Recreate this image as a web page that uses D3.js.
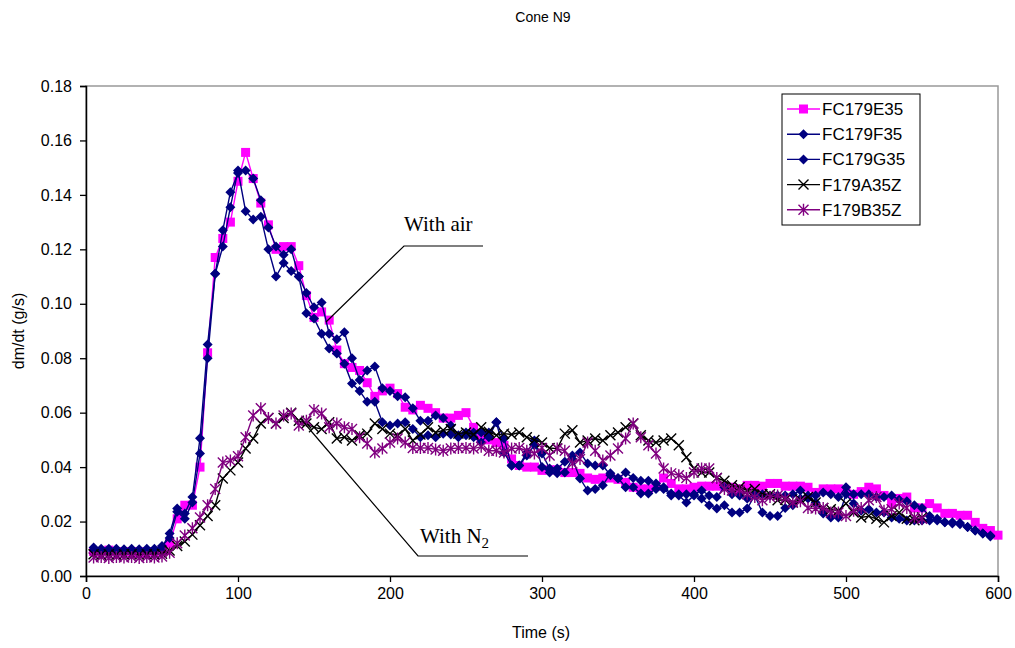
<!DOCTYPE html>
<meta charset="utf-8">
<script src="https://d3js.org/d3.v7.min.js"></script>
<style>
body { margin: 0; background: #fff; }
text { font-family: Arial, "Liberation Sans", sans-serif; }
</style>
<div id="my_dataviz"></div>
<script>

// time base: one reading every 5 s
var step = 5;
var seriesNames = ["FC179E35", "FC179F35", "FC179G35", "F179A35Z", "F179B35Z"];
var xTicks = [0, 100, 200, 300, 400, 500, 600];
var yTicks = [0, 0.02, 0.04, 0.06, 0.08, 0.10, 0.12, 0.14, 0.16, 0.18];

// dm/dt values (g/s), starting at t = 5 s
var e35 = [0.009,0.009,0.0095,0.009,0.009,0.009,0.0085,0.009,0.009,0.0095,
  0.012,0.021,0.026,0.026,0.040,0.082,0.117,0.124,0.130,0.145,
  0.1556,0.146,0.137,0.129,0.120,0.121,0.121,0.114,0.103,0.095,
  0.097,0.094,0.083,0.078,0.0766,0.0755,0.071,0.066,0.068,0.069,
  0.067,0.062,0.061,0.0627,0.0616,0.060,0.058,0.058,0.059,0.060,
  0.0546,0.0505,0.050,0.049,0.048,0.043,0.0406,0.040,0.040,0.0388,
  0.039,0.039,0.038,0.038,0.0377,0.036,0.0355,0.036,0.036,0.0355,
  0.0344,0.0326,0.032,0.032,0.033,0.036,0.034,0.032,0.032,0.0326,
  0.033,0.033,0.033,0.033,0.0326,0.032,0.0333,0.0333,0.033,0.034,
  0.034,0.033,0.033,0.033,0.0326,0.0307,0.032,0.032,0.032,0.0314,
  0.030,0.031,0.0326,0.032,0.0296,0.027,0.0285,0.029,0.025,0.025,
  0.0266,0.025,0.023,0.023,0.0223,0.0223,0.0197,0.0175,0.0167,0.015];

var f35 = [0.0105,0.010,0.010,0.010,0.0098,0.010,0.0098,0.010,0.010,0.0105,
  0.0156,0.0248,0.023,0.029,0.0506,0.085,0.111,0.127,0.141,0.148,
  0.149,0.146,0.138,0.128,0.121,0.118,0.120,0.110,0.104,0.0987,
  0.1005,0.089,0.087,0.0895,0.080,0.072,0.0755,0.077,0.069,0.068,
  0.066,0.0657,0.0616,0.057,0.057,0.059,0.058,0.0553,0.0517,0.0527,
  0.051,0.049,0.0527,0.0565,0.0505,0.0406,0.0406,0.0454,0.0498,0.040,
  0.038,0.0395,0.042,0.0443,0.0454,0.0413,0.0406,0.0406,0.037,0.0358,
  0.038,0.036,0.035,0.035,0.034,0.0326,0.0303,0.030,0.030,0.030,
  0.0314,0.0296,0.029,0.0326,0.030,0.0296,0.0285,0.030,0.030,0.0296,
  0.0296,0.0296,0.030,0.0314,0.0296,0.0296,0.0307,0.030,0.029,0.0326,
  0.030,0.030,0.030,0.029,0.029,0.0296,0.028,0.0275,0.026,0.025,
  0.022,0.021,0.0197,0.0193,0.0195,0.018,0.0167,0.0156,0.0149];

var g35 = [0.0095,0.0095,0.009,0.0095,0.009,0.009,0.0095,0.009,0.009,0.011,
  0.014,0.0236,0.021,0.027,0.045,0.080,0.111,0.121,0.1355,0.149,
  0.134,0.131,0.132,0.120,0.110,0.115,0.112,0.110,0.0965,0.0946,
  0.089,0.0836,0.0817,0.078,0.0707,0.068,0.064,0.064,0.0565,0.0553,
  0.056,0.0565,0.054,0.051,0.0517,0.051,0.0523,0.052,0.051,0.0517,
  0.0527,0.0527,0.051,0.0565,0.0454,0.0406,0.0406,0.0443,0.048,0.045,
  0.0395,0.0377,0.038,0.043,0.0358,0.0314,0.032,0.0333,0.0377,0.036,
  0.0326,0.0326,0.0303,0.0303,0.032,0.032,0.0296,0.0296,0.027,0.0296,
  0.0285,0.026,0.0248,0.026,0.0233,0.0233,0.0248,0.0296,0.0233,0.022,
  0.022,0.025,0.026,0.0285,0.0285,0.027,0.023,0.0215,0.0215,0.030,
  0.0266,0.024,0.0245,0.0233,0.0233,0.0215,0.021,0.0204,0.0204,0.0204,
  0.0204,0.0204,0.0197,0.0197,0.019,0.018,0.0167,0.0156,0.0145];

var a35z = [0.008,0.0078,0.008,0.0078,0.008,0.008,0.0078,0.008,0.008,0.0082,
  0.0094,0.011,0.0127,0.0152,0.0186,0.022,0.026,0.0358,0.0388,0.0417,
  0.0468,0.0505,0.056,0.058,0.056,0.058,0.060,0.057,0.056,0.0546,
  0.054,0.0565,0.0505,0.051,0.0498,0.0517,0.0523,0.056,0.054,0.0523,
  0.0517,0.054,0.0498,0.052,0.0546,0.0527,0.0535,0.054,0.0523,0.0527,
  0.052,0.0546,0.053,0.0517,0.0523,0.052,0.0527,0.051,0.050,0.049,
  0.047,0.0468,0.0523,0.0535,0.049,0.0498,0.0505,0.0498,0.0517,0.0527,
  0.0546,0.056,0.0517,0.0498,0.049,0.0498,0.0505,0.048,0.0436,0.0395,
  0.038,0.038,0.036,0.035,0.0333,0.0326,0.0314,0.032,0.030,0.030,
  0.0278,0.028,0.027,0.028,0.029,0.027,0.025,0.0245,0.024,0.0266,
  0.0233,0.0215,0.022,0.021,0.0197,0.022,0.0233,0.021,0.0205,0.0215];

var b35z = [0.0068,0.007,0.0066,0.007,0.0068,0.007,0.0066,0.007,0.0068,0.0072,
  0.0085,0.012,0.0149,0.0175,0.0215,0.026,0.032,0.0417,0.0424,0.044,
  0.051,0.059,0.0616,0.058,0.056,0.059,0.0597,0.0553,0.057,0.061,
  0.0597,0.0546,0.056,0.0546,0.054,0.051,0.0487,0.0454,0.0468,0.049,
  0.0505,0.049,0.047,0.047,0.047,0.0465,0.046,0.0468,0.047,0.047,
  0.0468,0.0475,0.046,0.046,0.0454,0.0468,0.047,0.046,0.045,0.047,
  0.0443,0.0468,0.046,0.0413,0.043,0.049,0.046,0.0424,0.0443,0.0468,
  0.0505,0.056,0.051,0.048,0.045,0.0395,0.0377,0.037,0.036,0.038,
  0.0395,0.0395,0.036,0.032,0.0314,0.0314,0.030,0.029,0.0278,0.029,
  0.0296,0.0285,0.027,0.0275,0.025,0.0248,0.025,0.0233,0.0233,0.022,
  0.024,0.025,0.0278,0.029,0.024,0.0245,0.0266,0.025,0.0215,0.021];

var allValues = [e35, f35, g35, a35z, b35z];
var colors = ["#FF00FF", "#000080", "#000080", "#000000", "#800080"];
var markers = ["square", "diamond", "diamond", "x", "star"];

var width = 1015, height = 648;
var margin = {top: 86, right: 17, bottom: 72, left: 86};
var pw = width - margin.left - margin.right,
    ph = height - margin.top - margin.bottom;

var svg = d3.select("#my_dataviz")
  .append("svg")
    .attr("width", width)
    .attr("height", height);

var x = d3.scaleLinear().domain([0, 600]).range([margin.left, margin.left + pw]);
var y = d3.scaleLinear().domain([0, 0.18]).range([margin.top + ph, margin.top]);

// plot area border (grey like Excel)
svg.append("rect")
  .attr("x", margin.left).attr("y", margin.top)
  .attr("width", pw).attr("height", ph)
  .attr("fill", "none").attr("stroke", "#999").attr("stroke-width", 1.5);

// axes
var xAxis = svg.append("g")
  .attr("transform", "translate(0," + (margin.top + ph) + ")")
  .call(d3.axisBottom(x).tickValues(xTicks).tickSize(6).tickPadding(6).tickFormat(d3.format("d")));
var yAxis = svg.append("g")
  .attr("transform", "translate(" + margin.left + ",0)")
  .call(d3.axisLeft(y).tickValues(yTicks).tickSize(6).tickPadding(8).tickFormat(d3.format(".2f")));
[xAxis, yAxis].forEach(function(a) {
  a.select(".domain").attr("stroke", "#000").attr("stroke-width", 1.5);
  a.selectAll(".tick line").attr("stroke", "#000").attr("stroke-width", 1.3);
  a.selectAll("text").style("font-size", "16px").attr("fill", "#000")
    .style("font-family", "Arial, 'Liberation Sans', sans-serif");
});

// marker drawing
function drawMarker(g, type, color, cx, cy) {
  if (type == "square") {
    g.append("rect").attr("x", cx - 4.5).attr("y", cy - 4.5).attr("width", 9).attr("height", 9)
      .attr("fill", color);
  } else if (type == "diamond") {
    g.append("path").attr("d", "M" + cx + "," + (cy - 5) + "L" + (cx + 5) + "," + cy + "L" + cx + "," + (cy + 5) + "L" + (cx - 5) + "," + cy + "Z")
      .attr("fill", color);
  } else if (type == "x") {
    g.append("path").attr("d", "M" + (cx - 5) + "," + (cy - 5) + "L" + (cx + 5) + "," + (cy + 5) + "M" + (cx - 5) + "," + (cy + 5) + "L" + (cx + 5) + "," + (cy - 5))
      .attr("stroke", color).attr("stroke-width", 1.4);
  } else {
    g.append("path").attr("d", "M" + (cx - 5) + "," + (cy - 5) + "L" + (cx + 5) + "," + (cy + 5) + "M" + (cx - 5) + "," + (cy + 5) + "L" + (cx + 5) + "," + (cy - 5) + "M" + cx + "," + (cy - 6) + "L" + cx + "," + (cy + 6))
      .attr("stroke", color).attr("stroke-width", 1.4);
  }
}

var line = d3.line()
  .x(function(d, i) { return x((i + 1) * step); })
  .y(function(d) { return y(d); });

allValues.forEach(function(vals, k) {
  var g = svg.append("g");
  g.append("path").datum(vals)
    .attr("d", line)
    .attr("fill", "none")
    .attr("stroke", colors[k])
    .attr("stroke-width", 1.4);
  vals.forEach(function(v, i) {
    drawMarker(g, markers[k], colors[k], x((i + 1) * step), y(v));
  });
});

// annotations
svg.append("path")
  .attr("d", "M326,322L404,246L483,246")
  .attr("fill", "none").attr("stroke", "#000").attr("stroke-width", 1.2);
svg.append("text")
  .attr("x", 404).attr("y", 231)
  .style("font-family", "'Liberation Serif', 'Times New Roman', serif")
  .style("font-size", "21px")
  .text("With air");

svg.append("path")
  .attr("d", "M300,418L418,556L528,556")
  .attr("fill", "none").attr("stroke", "#000").attr("stroke-width", 1.2);
var n2 = svg.append("text")
  .attr("x", 420).attr("y", 543)
  .style("font-family", "'Liberation Serif', 'Times New Roman', serif")
  .style("font-size", "21px")
  .text("With N");
n2.append("tspan").attr("dy", 5).style("font-size", "15px").text("2");

// legend
var lg = svg.append("g");
lg.append("rect")
  .attr("x", 782).attr("y", 94).attr("width", 138).attr("height", 131)
  .attr("fill", "#fff").attr("stroke", "#000").attr("stroke-width", 1);
seriesNames.forEach(function(name, k) {
  var ly = 109 + k * 25.2;
  lg.append("line").attr("x1", 787).attr("x2", 820).attr("y1", ly).attr("y2", ly)
    .attr("stroke", colors[k]).attr("stroke-width", 1.4);
  drawMarker(lg, markers[k], colors[k], 803.5, ly);
  lg.append("text").attr("x", 822).attr("y", ly + 6)
    .style("font-size", "17px").text(name);
});

// titles
svg.append("text")
  .attr("x", 543).attr("y", 22).attr("text-anchor", "middle")
  .style("font-size", "14px").text("Cone N9");
svg.append("text")
  .attr("x", 541).attr("y", 638).attr("text-anchor", "middle")
  .style("font-size", "16px").text("Time (s)");
svg.append("text")
  .attr("transform", "translate(24,331) rotate(-90)").attr("text-anchor", "middle")
  .style("font-size", "16px").text("dm/dt (g/s)");

</script>
